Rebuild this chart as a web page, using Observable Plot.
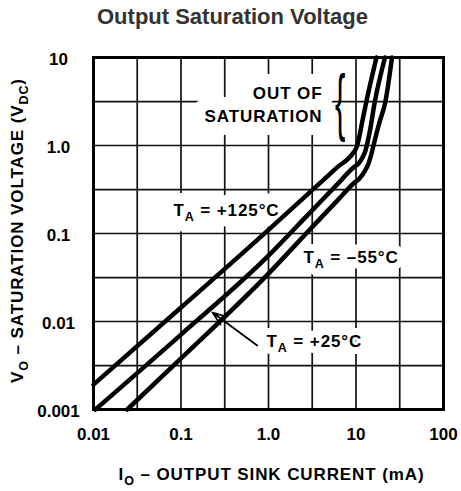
<!DOCTYPE html>
<html><head><meta charset="utf-8">
<script src="https://cdn.jsdelivr.net/npm/d3@7"></script>
<script src="https://cdn.jsdelivr.net/npm/@observablehq/plot@0.6"></script>
<style>
body{margin:0;background:#fff;}
#title{height:40px;box-sizing:border-box;padding-top:6.4px;padding-left:97px;font:bold 22px "Liberation Sans", Arial, sans-serif;line-height:22px;color:#333;white-space:nowrap;}
</style></head><body>
<div id="title">Output Saturation Voltage</div>
<div id="chart"></div>
<script>
// Output sink current (mA) and saturation voltage (V) for each ambient temperature
const current125 = [0.01, 0.1, 1, 3, 6, 9.36, 10.13, 10.68, 11.56, 13.0, 17.15];
const voltage125 = [0.00192, 0.0144, 0.11, 0.297, 0.557, 0.833, 0.949, 1.14, 1.69, 3.0, 10];
const current25 = [0.0105, 0.1, 1, 3, 6, 9.36, 10.68, 11.87, 12.84, 13.53, 14.45, 16.27, 21.45];
const voltage25 = [0.001, 0.0071, 0.056, 0.174, 0.355, 0.562, 0.624, 0.731, 0.877, 1.08, 1.48, 3.0, 10];
const currentM55 = [0.0243, 0.1, 1, 3, 6, 9.36, 10.96, 12.5, 13.9, 15.04, 16.06, 17.38, 18.8, 21.45, 25.78];
const voltageM55 = [0.001, 0.0038, 0.035, 0.112, 0.232, 0.37, 0.422, 0.506, 0.624, 0.811, 1.054, 1.44, 1.92, 3.0, 10];
const seriesNames = ["+125", "+25", "-55"];

const xTicks = [0.01, 0.1, 1, 10, 100];
const xTickLabels = ["0.01", "0.1", "1.0", "10", "100"];
const yTicks = [0.001, 0.01, 0.1, 1, 10];
const yTickLabels = ["0.001", "0.01", "0.1", "1.0", "10"];
const xGrid = [0.01, 0.0316, 0.1, 0.316, 1, 3.16, 10, 31.6, 100];
const yGrid = [0.001, 0.00316, 0.01, 0.0316, 0.1, 0.316, 1, 3.16, 10];

const xTitle = "I_{O} – OUTPUT SINK CURRENT (mA)";
const yTitle = "V_{O} – SATURATION VOLTAGE (V_{DC})";
const tempLabels = [
  {text: "T_{A} = +125°C", I: 0.082, V: 0.181, mask: 22},
  {text: "T_{A} = –55°C", I: 2.51, V: 0.0528, mask: 14},
  {text: "T_{A} = +25°C", I: 0.949, V: 0.00586, mask: 14}
];
const regionLabel = [{text: "OUT OF\nSATURATION", I: 4.14, V: 3.03}];
const braceAt = [{I: 6.6, V: 3.0}];
const arrow25 = [{I1: 0.743, V1: 0.00533, I2: 0.229, V2: 0.01265}];

const F = '"Liberation Sans", Arial, sans-serif';

const rows = [
  ...current125.map((d, i) => ({s: seriesNames[0], I: d, V: voltage125[i]})),
  ...current25.map((d, i) => ({s: seriesNames[1], I: d, V: voltage25[i]})),
  ...currentM55.map((d, i) => ({s: seriesNames[2], I: d, V: voltageM55[i]}))
];

const regionOpts = {x: "I", y: "V", text: "text", textAnchor: "end", lineHeight: 1.32, fontSize: 17};
const tempOpts = {x: "I", y: "V", text: "text", textAnchor: "start", fontSize: 17};

const plot = Plot.plot({
  width: 461, height: 451,
  marginLeft: 93, marginRight: 18, marginTop: 17, marginBottom: 82,
  style: {fontFamily: F, fontWeight: "bold", color: "#000", background: "#fff"},
  x: {type: "log", domain: [0.01, 100], axis: null},
  y: {type: "log", domain: [0.001, 10], axis: null},
  marks: [
    Plot.ruleX(xGrid, {stroke: "#111", strokeWidth: 1.7}),
    Plot.ruleY(yGrid, {stroke: "#111", strokeWidth: 1.7}),
    // white masks behind labels
    Plot.text(regionLabel, {...regionOpts, fill: "none", stroke: "#fff", strokeWidth: 26, strokeLinejoin: "round"}),
    Plot.text(tempLabels, {...tempOpts, fill: "none", stroke: "#fff", strokeWidth: "mask", strokeLinejoin: "round"}),
    Plot.text(regionLabel, {...regionOpts, fill: "#000"}),
    Plot.text(tempLabels, {...tempOpts, fill: "#000"}),
    Plot.line(rows, {x: "I", y: "V", z: "s", stroke: "#000", strokeWidth: 4.5, curve: "monotone-x", strokeLinejoin: "round"}),
    Plot.arrow(arrow25, {x1: "I1", y1: "V1", x2: "I2", y2: "V2", stroke: "#000", strokeWidth: 1.8, headLength: 12, headAngle: 40}),
    Plot.text(braceAt, {x: "I", y: "V", text: () => "{", fontSize: 74, fontWeight: "normal", fontFamily: "Liberation Sans", fill: "#000"}),
    Plot.frame({stroke: "#000", strokeWidth: 3}),
    Plot.text(yTicks, {y: d => d, text: (d, i) => yTickLabels[i], frameAnchor: "left", dx: -35, dy: 2, textAnchor: "middle", fontSize: 17, fill: "#000"}),
    Plot.text(xTicks, {x: d => d, text: (d, i) => xTickLabels[i], frameAnchor: "bottom", lineAnchor: "middle", dy: 25, textAnchor: "middle", fontSize: 17, fill: "#000"}),
    Plot.text([yTitle], {text: d => d, frameAnchor: "left", textAnchor: "middle", lineAnchor: "middle", rotate: -90, dx: -76, dy: -3, fontSize: 17, fill: "#000"}),
    Plot.text([xTitle], {text: d => d, frameAnchor: "bottom", textAnchor: "middle", lineAnchor: "middle", dx: 3, dy: 65, fontSize: 17, fill: "#000"})
  ]
});

const svg = d3.select(plot);
// letter spacing for word labels, subscripts written as _{...}
svg.selectAll("text").each(function() {
  const t = this.textContent;
  if (t === "{") {
    const tr = this.getAttribute("transform") || "";
    this.setAttribute("transform", tr + " scale(0.42,1)");
    return;
  }
  if (/[A-Z]/.test(t)) this.setAttribute("letter-spacing", "0.9");
  if (!t.includes("_{")) return;
  const parts = t.split(/(_\{[^}]*\})/).filter(p => p);
  this.textContent = "";
  let shifted = false;
  for (const p of parts) {
    const m = p.match(/^_\{(.*)\}$/);
    const ts = d3.select(this).append("tspan").text(m ? m[1] : p);
    if (m) { ts.attr("font-size", "12.5").attr("dy", 5); shifted = true; }
    else if (shifted) { ts.attr("dy", -5); shifted = false; }
  }
});

document.getElementById("chart").append(plot);
</script>
</body></html>
